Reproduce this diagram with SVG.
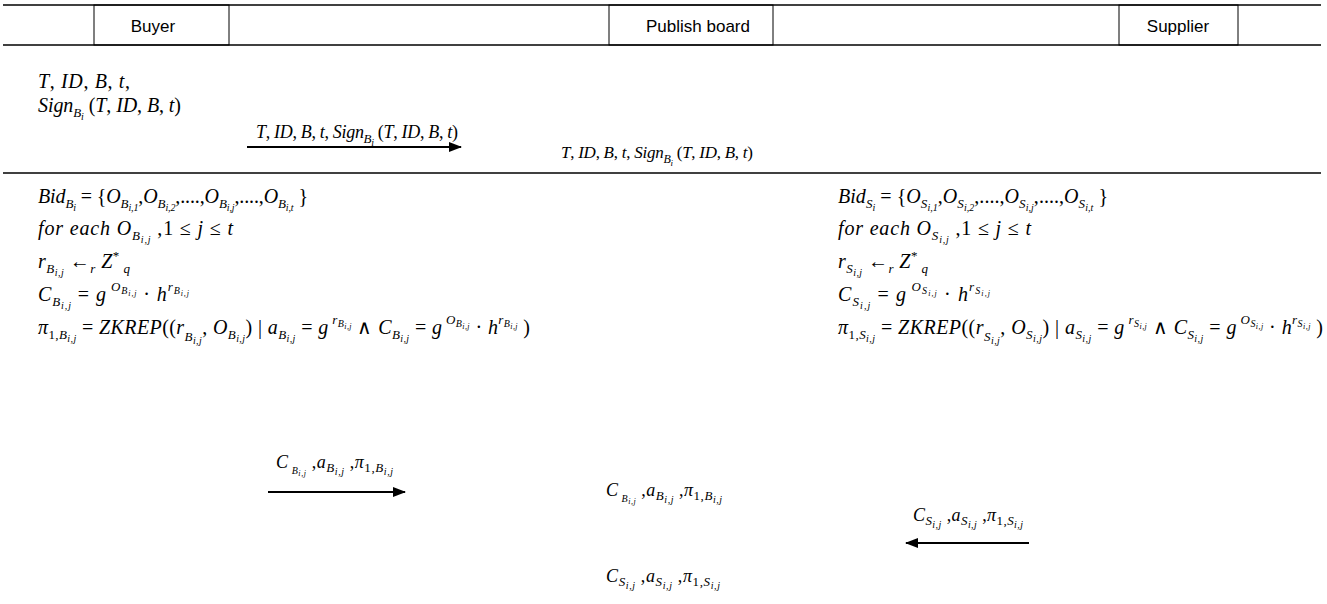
<svg xmlns="http://www.w3.org/2000/svg" width="1327" height="604" viewBox="0 0 1327 604">
<style>
.h{font-family:"Liberation Sans",Arial,sans-serif;font-size:17px;fill:#000}
.m{font-family:"Liberation Serif","Times New Roman",serif;font-size:20px;font-style:italic;fill:#000}
.m2{font-family:"Liberation Serif","Times New Roman",serif;font-size:18px;font-style:italic;fill:#000}
.u{font-style:normal}
.s{font-size:13px}
.ss{font-size:10px}
.t{font-size:8px}
.hl{stroke:#000;stroke-width:1.6;fill:none}
.vl{stroke:#000;stroke-width:1;fill:none}
.ar{stroke:#000;stroke-width:2;fill:none;marker-end:url(#ah)}
</style>
<defs>
<marker id="ah" markerWidth="13" markerHeight="10" refX="12" refY="5" orient="auto" markerUnits="userSpaceOnUse"><path d="M0,0 L13,5 L0,10 z" fill="#000"/></marker>
</defs>
<g id="header">
<line class="hl" x1="3" y1="5" x2="1321" y2="5"/>
<line class="hl" x1="3" y1="45" x2="1321" y2="45"/>
<line class="hl" x1="3" y1="173" x2="1321" y2="173"/>
</g>
<g id="buyer"><rect class="vl" x="94" y="5" width="135" height="40"/><text class="h" x="153" y="32" text-anchor="middle">Buyer</text></g>
<g id="board"><rect class="vl" x="609" y="5" width="164" height="40"/><text class="h" x="698" y="32" text-anchor="middle">Publish board</text></g>
<g id="supplier"><rect class="vl" x="1119" y="5" width="119" height="40"/><text class="h" x="1178" y="32" text-anchor="middle">Supplier</text></g>

<g id="connectors">
<line class="ar" x1="247" y1="147" x2="461" y2="147"/>
<line class="ar" x1="268" y1="492" x2="405" y2="492"/>
<line class="ar" x1="1029" y1="543" x2="906" y2="543"/>
</g>

<g id="buyer-init">
<text class="m" x="38" y="88" textLength="92" lengthAdjust="spacing">T<tspan class="u">, </tspan>ID<tspan class="u">, </tspan>B<tspan class="u">, </tspan>t<tspan class="u">,</tspan></text>
<text class="m" x="38" y="112" textLength="143" lengthAdjust="spacing">Sign<tspan class="s" dy="5">B</tspan><tspan class="ss" dy="3">i</tspan><tspan class="u" dy="-8"> (</tspan>T<tspan class="u">, </tspan>ID<tspan class="u">, </tspan>B<tspan class="u">, </tspan>t<tspan class="u">)</tspan></text>
</g>
<g id="label-sign">
<text class="m2" x="256" y="138" textLength="202" lengthAdjust="spacing">T<tspan class="u">, </tspan>ID<tspan class="u">, </tspan>B<tspan class="u">, </tspan>t<tspan class="u">, </tspan>Sign<tspan class="s" dy="5">B</tspan><tspan class="ss" dy="3">i</tspan><tspan class="u" dy="-8"> (</tspan>T<tspan class="u">, </tspan>ID<tspan class="u">, </tspan>B<tspan class="u">, </tspan>t<tspan class="u">)</tspan></text>
</g>
<g id="board-sign">
<text class="m2" x="561" y="158" textLength="192" lengthAdjust="spacing" style="font-size:17px">T<tspan class="u">, </tspan>ID<tspan class="u">, </tspan>B<tspan class="u">, </tspan>t<tspan class="u">, </tspan>Sign<tspan class="s" dy="5" style="font-size:12px">B</tspan><tspan class="ss" dy="3" style="font-size:9px">i</tspan><tspan class="u" dy="-8"> (</tspan>T<tspan class="u">, </tspan>ID<tspan class="u">, </tspan>B<tspan class="u">, </tspan>t<tspan class="u">)</tspan></text>
</g>

<g id="buyer-commit">
<text class="m" x="38" y="203" textLength="270" lengthAdjust="spacing">Bid<tspan class="s" dy="5">B</tspan><tspan class="ss" dy="3">i</tspan><tspan class="u" dy="-8"> = {</tspan>O<tspan class="s" dy="5">B</tspan><tspan class="ss" dy="3">i,1</tspan><tspan class="u" dy="-8">,</tspan>O<tspan class="s" dy="5">B</tspan><tspan class="ss" dy="3">i,2</tspan><tspan class="u" dy="-8">,....,</tspan>O<tspan class="s" dy="5">B</tspan><tspan class="ss" dy="3">i,j</tspan><tspan class="u" dy="-8">,....,</tspan>O<tspan class="s" dy="5">B</tspan><tspan class="ss" dy="3">i,t</tspan><tspan class="u" dy="-8"> }</tspan></text>
<text class="m" x="38" y="235" textLength="195" lengthAdjust="spacing">for each O<tspan class="s" dy="5">B</tspan><tspan class="ss" dy="3">i,j</tspan><tspan class="u" dy="-8"> ,1 ≤ </tspan>j<tspan class="u"> ≤ </tspan>t</text>
<text class="m" x="38" y="268" textLength="92" lengthAdjust="spacing">r<tspan class="s" dy="5">B</tspan><tspan class="ss" dy="3">i,j</tspan><tspan class="u" dy="-8"> ←</tspan><tspan class="s" dy="5">r</tspan><tspan dy="-5"> Z</tspan><tspan class="s u" dy="-8">*</tspan><tspan class="s" dy="13"> q</tspan></text>
<text class="m" x="38" y="301" textLength="151" lengthAdjust="spacing">C<tspan class="s" dy="5">B</tspan><tspan class="ss" dy="3">i,j</tspan><tspan class="u" dy="-8"> = </tspan>g<tspan class="s" dy="-10"> O</tspan><tspan class="ss" dy="3">B</tspan><tspan class="t" dy="2">i,j</tspan><tspan class="u" dy="5">  · </tspan>h<tspan class="s" dy="-10">r</tspan><tspan class="ss" dy="3">B</tspan><tspan class="t" dy="2">i,j</tspan></text>
<text class="m" x="38" y="334" textLength="492" lengthAdjust="spacing">π<tspan class="s u" dy="5">1,</tspan><tspan class="s">B</tspan><tspan class="ss" dy="3">i,j</tspan><tspan class="u" dy="-8"> = </tspan>ZKREP<tspan class="u">((</tspan>r<tspan class="s" dy="7">B</tspan><tspan class="ss" dy="3">i,j</tspan><tspan class="u" dy="-10">, </tspan>O<tspan class="s" dy="5">B</tspan><tspan class="ss" dy="3">i,j</tspan><tspan class="u" dy="-8">) | </tspan>a<tspan class="s" dy="5">B</tspan><tspan class="ss" dy="3">i,j</tspan><tspan class="u" dy="-8"> = </tspan>g<tspan class="s" dy="-10"> r</tspan><tspan class="ss" dy="3">B</tspan><tspan class="t" dy="2">i,j</tspan><tspan class="u" dy="5"> ∧ </tspan>C<tspan class="s" dy="5">B</tspan><tspan class="ss" dy="3">i,j</tspan><tspan class="u" dy="-8"> = </tspan>g<tspan class="s" dy="-10"> O</tspan><tspan class="ss" dy="3">B</tspan><tspan class="t" dy="2">i,j</tspan><tspan class="u" dy="5">  · </tspan>h<tspan class="s" dy="-10">r</tspan><tspan class="ss" dy="3">B</tspan><tspan class="t" dy="2">i,j</tspan><tspan class="u" dy="5"> )</tspan></text>
</g>

<g id="supplier-commit">
<text class="m" x="838" y="203" textLength="270" lengthAdjust="spacing">Bid<tspan class="s" dy="5">S</tspan><tspan class="ss" dy="3">i</tspan><tspan class="u" dy="-8"> = {</tspan>O<tspan class="s" dy="5">S</tspan><tspan class="ss" dy="3">i,1</tspan><tspan class="u" dy="-8">,</tspan>O<tspan class="s" dy="5">S</tspan><tspan class="ss" dy="3">i,2</tspan><tspan class="u" dy="-8">,....,</tspan>O<tspan class="s" dy="5">S</tspan><tspan class="ss" dy="3">i,j</tspan><tspan class="u" dy="-8">,....,</tspan>O<tspan class="s" dy="5">S</tspan><tspan class="ss" dy="3">i,t</tspan><tspan class="u" dy="-8"> }</tspan></text>
<text class="m" x="838" y="235" textLength="193" lengthAdjust="spacing">for each O<tspan class="s" dy="5">S</tspan><tspan class="ss" dy="3">i,j</tspan><tspan class="u" dy="-8"> ,1 ≤ </tspan>j<tspan class="u"> ≤ </tspan>t</text>
<text class="m" x="838" y="268" textLength="90" lengthAdjust="spacing">r<tspan class="s" dy="5">S</tspan><tspan class="ss" dy="3">i,j</tspan><tspan class="u" dy="-8"> ←</tspan><tspan class="s" dy="5">r</tspan><tspan dy="-5"> Z</tspan><tspan class="s u" dy="-8">*</tspan><tspan class="s" dy="13"> q</tspan></text>
<text class="m" x="838" y="301" textLength="152" lengthAdjust="spacing">C<tspan class="s" dy="5">S</tspan><tspan class="ss" dy="3">i,j</tspan><tspan class="u" dy="-8"> = </tspan>g<tspan class="s" dy="-10"> O</tspan><tspan class="ss" dy="3">S</tspan><tspan class="t" dy="2">i,j</tspan><tspan class="u" dy="5">  · </tspan>h<tspan class="s" dy="-10">r</tspan><tspan class="ss" dy="3">S</tspan><tspan class="t" dy="2">i,j</tspan></text>
<text class="m" x="838" y="334" textLength="485" lengthAdjust="spacing">π<tspan class="s u" dy="5">1,</tspan><tspan class="s">S</tspan><tspan class="ss" dy="3">i,j</tspan><tspan class="u" dy="-8"> = </tspan>ZKREP<tspan class="u">((</tspan>r<tspan class="s" dy="7">S</tspan><tspan class="ss" dy="3">i,j</tspan><tspan class="u" dy="-10">, </tspan>O<tspan class="s" dy="5">S</tspan><tspan class="ss" dy="3">i,j</tspan><tspan class="u" dy="-8">) | </tspan>a<tspan class="s" dy="5">S</tspan><tspan class="ss" dy="3">i,j</tspan><tspan class="u" dy="-8"> = </tspan>g<tspan class="s" dy="-10"> r</tspan><tspan class="ss" dy="3">S</tspan><tspan class="t" dy="2">i,j</tspan><tspan class="u" dy="5"> ∧ </tspan>C<tspan class="s" dy="5">S</tspan><tspan class="ss" dy="3">i,j</tspan><tspan class="u" dy="-8"> = </tspan>g<tspan class="s" dy="-10"> O</tspan><tspan class="ss" dy="3">S</tspan><tspan class="t" dy="2">i,j</tspan><tspan class="u" dy="5">  · </tspan>h<tspan class="s" dy="-10">r</tspan><tspan class="ss" dy="3">S</tspan><tspan class="t" dy="2">i,j</tspan><tspan class="u" dy="5"> )</tspan></text>
</g>

<g id="label-buyer-proof">
<text class="m2" x="276" y="468" textLength="117" lengthAdjust="spacing">C<tspan class="ss" dy="6"> B</tspan><tspan class="t" dy="2">i,j</tspan><tspan class="u" dy="-8"> ,</tspan>a<tspan class="s" dy="4">B</tspan><tspan class="ss" dy="3">i,j</tspan><tspan class="u" dy="-7"> ,</tspan>π<tspan class="s u" dy="4">1,</tspan><tspan class="s">B</tspan><tspan class="ss" dy="3">i,j</tspan></text>
</g>
<g id="board-buyer-proof">
<text class="m2" x="606" y="496" textLength="116" lengthAdjust="spacing">C<tspan class="ss" dy="6"> B</tspan><tspan class="t" dy="2">i,j</tspan><tspan class="u" dy="-8"> ,</tspan>a<tspan class="s" dy="4">B</tspan><tspan class="ss" dy="3">i,j</tspan><tspan class="u" dy="-7"> ,</tspan>π<tspan class="s u" dy="4">1,</tspan><tspan class="s">B</tspan><tspan class="ss" dy="3">i,j</tspan></text>
</g>
<g id="label-supplier-proof">
<text class="m2" x="913" y="521" textLength="110" lengthAdjust="spacing">C<tspan class="s" dy="4">S</tspan><tspan class="ss" dy="3">i,j</tspan><tspan class="u" dy="-7"> ,</tspan>a<tspan class="s" dy="4">S</tspan><tspan class="ss" dy="3">i,j</tspan><tspan class="u" dy="-7"> ,</tspan>π<tspan class="s u" dy="4">1,</tspan><tspan class="s">S</tspan><tspan class="ss" dy="3">i,j</tspan></text>
</g>
<g id="board-supplier-proof">
<text class="m2" x="606" y="582" textLength="114" lengthAdjust="spacing">C<tspan class="s" dy="4">S</tspan><tspan class="ss" dy="3">i,j</tspan><tspan class="u" dy="-7"> ,</tspan>a<tspan class="s" dy="4">S</tspan><tspan class="ss" dy="3">i,j</tspan><tspan class="u" dy="-7"> ,</tspan>π<tspan class="s u" dy="4">1,</tspan><tspan class="s">S</tspan><tspan class="ss" dy="3">i,j</tspan></text>
</g>
</svg>
